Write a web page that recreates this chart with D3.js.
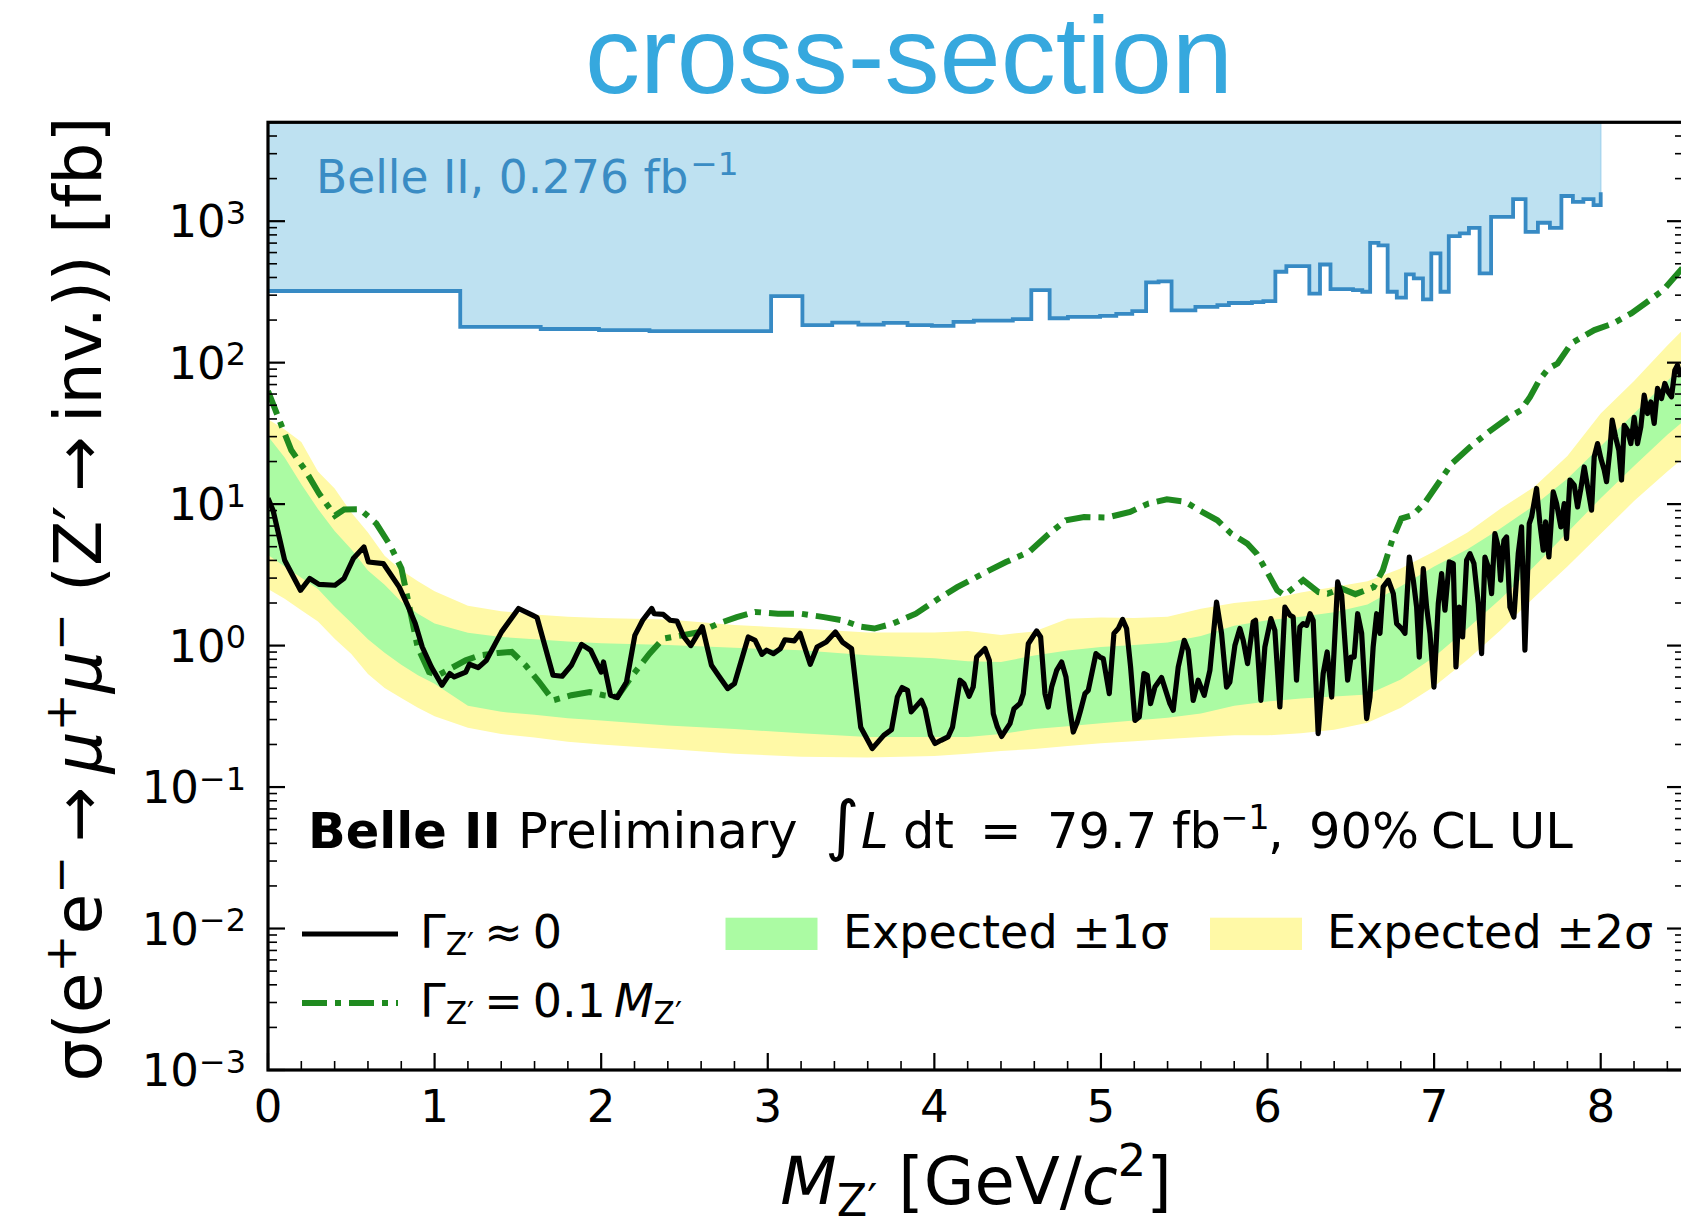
<!DOCTYPE html>
<html>
<head>
<meta charset="utf-8">
<script src="https://cdn.jsdelivr.net/npm/d3@7"></script>
<style>
  body { margin: 0; background: #ffffff; }
  svg text { font-family: "DejaVu Sans", sans-serif; fill: #000; }
</style>
</head>
<body>
<svg id="chart" width="1681" height="1219"></svg>
<script>
// ---------------------------------------------------------------------------
// Upper limits on sigma(e+e- -> mu+mu- Z'(-> inv.)) versus Z' mass
// ---------------------------------------------------------------------------

// Observed 90% CL upper limit, narrow Z' (mass [GeV/c^2], sigma [fb])
const observedNarrow = [
  [0.0, 11.0], [0.03, 9.06], [0.10, 4.01], [0.195, 2.46], [0.25, 2.98], [0.306, 2.71], [0.402, 2.67],
  [0.456, 2.98], [0.512, 4.12], [0.576, 4.98], [0.603, 3.90], [0.692, 3.80], [0.788, 2.59], [0.843, 1.87],
  [0.884, 1.43], [0.926, 0.977], [0.981, 0.706], [1.044, 0.524], [1.091, 0.634], [1.118, 0.600],
  [1.187, 0.650], [1.209, 0.738], [1.262, 0.698], [1.311, 0.787], [1.402, 1.25], [1.504, 1.83],
  [1.587, 1.64], [1.615, 1.58], [1.711, 0.617], [1.766, 0.607], [1.821, 0.726], [1.882, 1.02],
  [1.937, 0.927], [2.0, 0.650], [2.014, 0.766], [2.056, 0.446], [2.097, 0.429], [2.152, 0.553],
  [2.202, 1.18], [2.249, 1.51], [2.304, 1.83], [2.318, 1.68], [2.373, 1.66], [2.414, 1.51], [2.455, 1.49],
  [2.497, 1.15], [2.538, 1.00], [2.607, 1.36], [2.662, 0.726], [2.703, 0.617], [2.759, 0.497], [2.8, 0.538],
  [2.883, 1.15], [2.924, 1.09], [2.965, 0.867], [2.993, 0.927], [3.034, 0.877], [3.076, 0.953], [3.103, 1.10],
  [3.159, 1.08], [3.194, 1.22], [3.255, 0.738], [3.296, 0.977], [3.351, 1.06], [3.406, 1.25], [3.448, 1.06],
  [3.503, 0.953], [3.558, 0.265], [3.627, 0.187], [3.696, 0.232], [3.743, 0.255], [3.778, 0.434],
  [3.806, 0.505], [3.839, 0.483], [3.861, 0.340], [3.922, 0.410], [3.944, 0.358], [3.977, 0.232],
  [4.004, 0.203], [4.040, 0.214], [4.082, 0.226], [4.109, 0.265], [4.154, 0.569], [4.178, 0.538],
  [4.209, 0.438], [4.233, 0.509], [4.254, 0.830], [4.274, 0.877], [4.304, 0.953], [4.330, 0.787],
  [4.354, 0.330], [4.378, 0.266], [4.404, 0.228], [4.434, 0.259], [4.454, 0.281], [4.478, 0.358],
  [4.514, 0.389], [4.534, 0.458], [4.564, 1.03], [4.590, 1.15], [4.614, 1.27], [4.638, 1.15], [4.664, 0.458],
  [4.684, 0.368], [4.704, 0.509], [4.734, 0.668], [4.764, 0.766], [4.790, 0.600], [4.814, 0.349],
  [4.834, 0.245], [4.858, 0.288], [4.878, 0.349], [4.904, 0.458], [4.924, 0.483], [4.970, 0.877],
  [4.994, 0.830], [5.014, 0.809], [5.050, 0.458], [5.078, 1.22], [5.104, 1.32], [5.130, 1.53], [5.154, 1.32],
  [5.178, 0.706], [5.204, 0.296], [5.230, 0.313], [5.258, 0.634], [5.278, 0.617], [5.298, 0.389],
  [5.324, 0.509], [5.364, 0.594], [5.414, 0.389], [5.434, 0.349], [5.464, 0.706], [5.500, 1.09],
  [5.524, 0.927], [5.554, 0.410], [5.584, 0.569], [5.620, 0.445], [5.654, 0.668], [5.694, 2.03],
  [5.724, 1.22], [5.754, 0.509], [5.774, 0.553], [5.804, 1.00], [5.834, 1.32], [5.854, 1.09], [5.880, 0.746],
  [5.914, 1.47], [5.928, 1.51], [5.960, 0.410], [5.984, 0.977], [6.020, 1.55], [6.044, 1.28], [6.074, 0.368],
  [6.104, 1.87], [6.134, 1.64], [6.154, 1.59], [6.174, 0.569], [6.194, 1.35], [6.214, 1.43], [6.235, 1.39],
  [6.255, 1.68], [6.274, 1.51], [6.304, 0.239], [6.334, 0.634], [6.358, 0.901], [6.385, 0.433],
  [6.421, 2.82], [6.445, 2.27], [6.481, 0.569], [6.501, 0.830], [6.520, 0.830], [6.541, 1.68], [6.565, 1.22],
  [6.595, 0.305], [6.615, 0.433], [6.634, 0.977], [6.655, 1.68], [6.675, 1.22], [6.694, 2.60], [6.725, 2.90],
  [6.755, 2.33], [6.775, 1.43], [6.805, 1.32], [6.825, 1.22], [6.851, 4.23], [6.875, 2.90], [6.895, 1.87],
  [6.911, 0.830], [6.935, 3.50], [6.955, 1.87], [6.975, 1.22], [6.999, 0.509], [7.025, 1.98], [7.045, 3.23],
  [7.065, 1.78], [7.091, 3.90], [7.115, 3.80], [7.131, 0.706], [7.151, 1.87], [7.171, 1.15], [7.195, 4.01],
  [7.215, 4.47], [7.239, 3.80], [7.265, 1.98], [7.285, 0.877], [7.305, 4.23], [7.325, 3.60], [7.345, 2.33],
  [7.365, 6.19], [7.385, 4.98], [7.399, 2.90], [7.419, 5.55], [7.435, 5.86], [7.455, 1.87], [7.479, 1.59],
  [7.505, 4.47], [7.525, 6.90], [7.545, 0.927], [7.571, 7.29], [7.585, 8.11], [7.615, 12.9], [7.635, 7.29],
  [7.655, 4.72], [7.669, 7.48], [7.689, 4.23], [7.715, 12.2], [7.735, 10.1], [7.761, 6.90], [7.781, 10.1],
  [7.795, 5.71], [7.815, 14.8], [7.841, 13.6], [7.861, 9.55], [7.881, 12.9], [7.901, 18.3], [7.925, 12.5],
  [7.945, 9.06], [7.961, 21.6], [7.981, 26.8], [8.001, 21.0], [8.021, 17.4], [8.035, 14.4], [8.055, 24.0],
  [8.069, 39.2], [8.089, 29.9], [8.109, 24.0], [8.125, 14.8], [8.141, 36.1], [8.161, 33.3], [8.181, 26.8],
  [8.201, 41.0], [8.221, 26.8], [8.241, 35.2], [8.261, 58.9], [8.281, 43.7], [8.301, 52.8], [8.321, 37.2],
  [8.341, 65.7], [8.365, 55.8], [8.385, 71.3], [8.405, 62.1], [8.425, 57.3], [8.445, 88.5], [8.461, 95.9],
  [8.481, 79.4]
];

// Observed 90% CL upper limit, wide Z' (width = 0.1 M)
const observedWide = [
  [0, 63], [0.084, 35.2], [0.14, 24.0], [0.223, 17.4], [0.306, 11.9], [0.402, 8.3], [0.457, 9.16],
  [0.553, 9.20], [0.650, 7.29], [0.733, 5.12], [0.801, 3.51], [0.857, 1.68], [0.898, 0.977], [0.967, 0.650],
  [1.022, 0.617], [1.105, 0.698], [1.187, 0.787], [1.270, 0.853], [1.381, 0.887], [1.463, 0.902],
  [1.546, 0.726], [1.628, 0.553], [1.711, 0.410], [1.821, 0.446], [1.932, 0.470], [2.014, 0.446],
  [2.097, 0.434], [2.180, 0.600], [2.290, 0.877], [2.373, 1.12], [2.483, 1.18], [2.593, 1.25], [2.703, 1.43],
  [2.814, 1.59], [2.924, 1.73], [3.061, 1.68], [3.199, 1.68], [3.337, 1.59], [3.448, 1.51], [3.558, 1.36],
  [3.640, 1.32], [3.751, 1.43], [3.889, 1.68], [4.026, 2.15], [4.137, 2.59], [4.292, 3.23], [4.430, 3.90],
  [4.568, 4.59], [4.678, 6.03], [4.789, 7.69], [4.899, 8.11], [5.037, 8.04], [5.175, 8.81], [5.285, 10.1],
  [5.396, 10.8], [5.506, 10.4], [5.589, 9.06], [5.699, 7.69], [5.782, 6.19], [5.879, 5.26], [5.934, 4.48],
  [6.003, 3.23], [6.058, 2.46], [6.100, 2.27], [6.214, 2.90], [6.306, 2.39], [6.361, 2.33], [6.444, 2.53],
  [6.527, 2.31], [6.637, 2.59], [6.692, 3.41], [6.748, 5.56], [6.803, 7.91], [6.872, 8.36], [6.941, 10.1],
  [7.024, 14.0], [7.107, 19.4], [7.217, 25.4], [7.328, 32.4], [7.438, 40.3], [7.521, 46.1], [7.576, 57.3],
  [7.631, 75.2], [7.686, 91.0], [7.741, 98.6], [7.824, 137], [7.962, 170], [8.073, 189], [8.183, 223],
  [8.266, 262], [8.376, 326], [8.5, 480]
];

// Expected limit bands (±1 sigma, ±2 sigma)
const bandMass = [0, 0.1, 0.2, 0.3, 0.4, 0.5, 0.6, 0.7, 0.8, 0.9, 1.0, 1.2, 1.4, 1.6, 1.8, 2.0, 2.4, 2.8, 3.2,
  3.6, 4.0, 4.2, 4.4, 4.6, 4.8, 5.0, 5.2, 5.4, 5.6, 5.8, 6.0, 6.2, 6.4, 6.6, 6.8, 7.0, 7.2, 7.4, 7.6, 7.8,
  8.0, 8.2, 8.4, 8.5];
const expected2Up = [39.8, 33.7, 27.5, 17.0, 12.9, 8.71, 6.31, 4.32, 3.41, 2.85, 2.42, 1.91, 1.75, 1.66, 1.60,
  1.57, 1.53, 1.40, 1.32, 1.24, 1.24, 1.27, 1.19, 1.26, 1.55, 1.58, 1.57, 1.60, 1.82, 2.00, 2.11, 2.37, 2.60,
  2.85, 3.51, 4.62, 6.31, 9.33, 13.2, 21.9, 43.7, 74.1, 132, 174];
const expected1Up = [30.2, 21.4, 13.8, 9.23, 6.46, 4.79, 3.39, 2.69, 2.04, 1.68, 1.43, 1.23, 1.15, 1.11, 1.07,
  1.04, 1.01, 0.964, 0.927, 0.855, 0.813, 0.776, 0.767, 0.851, 0.923, 0.977, 1.01, 1.05, 1.17, 1.38, 1.51,
  1.60, 1.72, 1.95, 2.63, 3.63, 4.79, 6.76, 9.77, 15.1, 25.7, 43.7, 74.1, 97.7];
const expected1Down = [4.37, 3.63, 3.02, 2.51, 1.88, 1.45, 1.11, 0.891, 0.733, 0.617, 0.537, 0.376, 0.340,
  0.324, 0.307, 0.295, 0.272, 0.257, 0.240, 0.226, 0.226, 0.226, 0.237, 0.257, 0.269, 0.282, 0.295, 0.309,
  0.331, 0.376, 0.403, 0.422, 0.437, 0.452, 0.575, 0.832, 1.32, 2.14, 3.63, 6.31, 11.0, 18.6, 30.9, 38.9];
const expected2Down = [2.51, 2.14, 1.78, 1.48, 1.12, 0.871, 0.631, 0.501, 0.427, 0.363, 0.316, 0.263, 0.237,
  0.224, 0.209, 0.200, 0.186, 0.172, 0.164, 0.162, 0.166, 0.172, 0.180, 0.186, 0.195, 0.204, 0.211, 0.219,
  0.226, 0.232, 0.232, 0.240, 0.254, 0.285, 0.363, 0.513, 0.794, 1.29, 2.19, 3.63, 6.17, 10.5, 17.0, 21.4];

// Earlier Belle II result (0.276 fb^-1), binned limit
const earlierEdges = [0, 1.154, 1.637, 1.987, 2.29, 3.02, 3.208, 3.387, 3.544, 3.696, 3.839, 3.985, 4.115,
  4.237, 4.471, 4.582, 4.692, 4.802, 4.995, 5.092, 5.188, 5.271, 5.346, 5.424, 5.567, 5.699, 5.768, 5.906,
  5.975, 6.047, 6.113, 6.251, 6.315, 6.378, 6.513, 6.569, 6.616, 6.666, 6.721, 6.776, 6.831, 6.878, 6.933,
  6.983, 7.038, 7.088, 7.154, 7.209, 7.273, 7.342, 7.474, 7.549, 7.623, 7.695, 7.764, 7.833, 7.896, 7.957, 8.0];
const earlierLimit = [321, 179, 173, 170, 167, 295, 184, 192, 186, 191, 184, 182, 194, 198, 203, 326, 206, 211,
  214, 221, 231, 369, 375, 234, 248, 255, 264, 268, 272, 439, 481, 308, 494, 331, 326, 317, 703, 675, 317,
  288, 421, 394, 280, 592, 317, 785, 820, 897, 428, 1074, 1432, 841, 975, 897, 1507, 1371, 1432, 1300];
const earlierClosing = 1600;

// Axis ticks
const xMajorTicks = [0, 1, 2, 3, 4, 5, 6, 7, 8];
const yMajorExponents = [-3, -2, -1, 0, 1, 2, 3];

// ---------------------------------------------------------------------------
const svg = d3.select("#chart");
const frameL = 268, frameR = 1684, frameT = 122.3, frameB = 1070;

const x = d3.scaleLinear().domain([0, 8.5]).range([frameL, frameR]);
const y = d3.scaleLog().domain([1e-3, 5e3]).range([frameB, frameT]);

svg.append("defs").append("clipPath").attr("id", "plotArea")
  .append("rect").attr("x", frameL).attr("y", frameT).attr("width", frameR - frameL).attr("height", frameB - frameT);

const plot = svg.append("g").attr("clip-path", "url(#plotArea)");

const colGreen = "#abfba3", colYellow = "#fff9a6", colDashDot = "#1f8a1f";
const dashDot = "25,8,6,8";
const bandRows = bandMass.map((m, i) => ({
  m, u2: expected2Up[i], u1: expected1Up[i], d1: expected1Down[i], d2: expected2Down[i]
}));

// ±2 sigma and ±1 sigma expected bands
plot.append("path").datum(bandRows)
  .attr("fill", colYellow)
  .attr("d", d3.area().x(d => x(d.m)).y0(d => y(d.d2)).y1(d => y(d.u2)));
plot.append("path").datum(bandRows)
  .attr("fill", colGreen)
  .attr("d", d3.area().x(d => x(d.m)).y0(d => y(d.d1)).y1(d => y(d.u1)));

// Earlier binned limit: filled excluded region above the steps
const steps = [];
earlierLimit.forEach((v, i) => {
  steps.push([earlierEdges[i], v]);
  steps.push([earlierEdges[i + 1], v]);
});
plot.append("path").datum(steps)
  .attr("fill", "#bee1f1")
  .attr("stroke", "#a9d6ee")
  .attr("stroke-width", 1.5)
  .attr("d", d3.area().x(d => x(d[0])).y0(y.range()[1]).y1(d => y(d[1])));
plot.append("path").datum(steps.concat([[earlierEdges[earlierEdges.length - 1], earlierClosing]]))
  .attr("fill", "none")
  .attr("stroke", "#378ac4")
  .attr("stroke-width", 3.8)
  .attr("d", d3.line().x(d => x(d[0])).y(d => y(d[1])));

// Wide-resonance limit (dash-dot)
const lineGen = d3.line().x(d => x(d[0])).y(d => y(d[1]));
plot.append("path").datum(observedWide)
  .attr("fill", "none")
  .attr("stroke", colDashDot)
  .attr("stroke-width", 6)
  .attr("stroke-dasharray", dashDot)
  .attr("d", lineGen);

// Narrow-resonance limit (solid)
plot.append("path").datum(observedNarrow)
  .attr("fill", "none")
  .attr("stroke", "#000")
  .attr("stroke-width", 5.2)
  .attr("stroke-linejoin", "round")
  .attr("d", lineGen);

// ---------------------------------------------------------------------------
// Frame and ticks
const axes = svg.append("g").attr("stroke", "#000");
const major = 17, minor = 9;

const yMinor = [];
yMajorExponents.forEach(e => {
  for (let k = 2; k <= 9; k++) {
    const v = k * Math.pow(10, e);
    if (v <= 5e3) yMinor.push(v);
  }
});
yMajorExponents.forEach(e => {
  const py = y(Math.pow(10, e));
  axes.append("line").attr("x1", frameL).attr("x2", frameL + major).attr("y1", py).attr("y2", py).attr("stroke-width", 2.2);
  axes.append("line").attr("x1", frameR).attr("x2", frameR - major).attr("y1", py).attr("y2", py).attr("stroke-width", 2.2);
});
yMinor.forEach(v => {
  const py = y(v);
  axes.append("line").attr("x1", frameL).attr("x2", frameL + minor).attr("y1", py).attr("y2", py).attr("stroke-width", 1.6);
  axes.append("line").attr("x1", frameR).attr("x2", frameR - minor).attr("y1", py).attr("y2", py).attr("stroke-width", 1.6);
});
xMajorTicks.forEach(t => {
  axes.append("line").attr("x1", x(t)).attr("x2", x(t)).attr("y1", frameB).attr("y2", frameB - major).attr("stroke-width", 2.2);
});
d3.range(1, 43).filter(i => i % 5 !== 0).map(i => i * 0.2).forEach(t => {
  axes.append("line").attr("x1", x(t)).attr("x2", x(t)).attr("y1", frameB).attr("y2", frameB - minor).attr("stroke-width", 1.6);
});
svg.append("rect").attr("x", frameL).attr("y", frameT).attr("width", frameR - frameL).attr("height", frameB - frameT)
  .attr("fill", "none").attr("stroke", "#000").attr("stroke-width", 3.2);

// ---------------------------------------------------------------------------
// Rich text helper: parts = [{t, sup, sub, it, b, size, x, dx}]
function rich(textSel, parts, base) {
  let shift = 0;
  parts.forEach(p => {
    const ts = textSel.append("tspan").text(p.t);
    let target = 0, size = p.size || base;
    if (p.sup) { size = base * (p.scale || 0.68); target = -base * (p.raise || 0.38); }
    if (p.sub) { size = base * (p.scale || 0.68); target = base * (p.drop || 0.16); }
    ts.style("font-size", size + "px");
    if (target !== shift) { ts.attr("dy", target - shift); shift = target; }
    if (p.it) ts.style("font-style", "italic");
    if (p.b) ts.style("font-weight", "bold");
    if (p.x !== undefined) ts.attr("x", p.x);
    if (p.dx !== undefined) ts.attr("dx", p.dx);
  });
  return textSel;
}

// Tick labels
const tickFont = 45;
yMajorExponents.forEach(e => {
  const t = svg.append("text").attr("x", 246).attr("y", y(Math.pow(10, e)) + 16)
    .attr("text-anchor", "end").style("font-size", tickFont + "px");
  rich(t, [{ t: "10" }, { t: e < 0 ? "\u2212" + (-e) : String(e), sup: true, scale: 0.71, raise: 0.3 }], tickFont);
});
xMajorTicks.forEach(v => {
  svg.append("text").attr("x", x(v)).attr("y", 1122).attr("text-anchor", "middle")
    .style("font-size", tickFont + "px").text(v);
});

// Axis titles
const xt = svg.append("text").attr("x", 976).attr("y", 1204).attr("text-anchor", "middle").style("font-size", "65.5px");
rich(xt, [{ t: "M", it: true }, { t: "Z\u2032", sub: true, drop: 0.18 }, { t: " [GeV/" }, { t: "c", it: true },
  { t: "2", sup: true, raise: 0.42 }, { t: "]" }], 65.5);

const yt = svg.append("text").attr("transform", "translate(101,599) rotate(-90)")
  .attr("text-anchor", "middle").style("font-size", "66.5px");
rich(yt, [{ t: "\u03c3(e" }, { t: "+", sup: true }, { t: "e" }, { t: "\u2212", sup: true }, { t: "\u2009\u2192\u2009" },
  { t: "\u03bc", it: true }, { t: "+", sup: true }, { t: "\u03bc", it: true }, { t: "\u2212", sup: true },
  { t: " (Z\u2032\u2009\u2192\u2009inv.)) [fb]" }], 66.5);

// Title
svg.append("text").attr("x", 909).attr("y", 93).attr("text-anchor", "middle")
  .style("font-family", "'Liberation Sans', Arial, sans-serif").style("font-size", "110px")
  .style("fill", "#36a8de").text("cross-section");

// Annotation of the earlier result
const prev = svg.append("text").attr("x", 316).attr("y", 193).style("font-size", "45.5px").style("fill", "#3a8cc4");
rich(prev, [{ t: "Belle II, 0.276 fb" }, { t: "\u22121", sup: true, scale: 0.72, raise: 0.4, dx: 2 }], 45.5);

// Experiment label
const lab = svg.append("text").attr("y", 848).style("font-size", "49.5px");
rich(lab, [
  { t: "Belle II", b: true, x: 308 },
  { t: "Preliminary", x: 518 },
  { t: "\u222b", x: 825, size: 66 },
  { t: "L", it: true, x: 861 },
  { t: "dt", x: 903 },
  { t: "=", x: 980 },
  { t: "79.7", x: 1047 },
  { t: "fb", x: 1172 },
  { t: "\u22121", sup: true, scale: 0.68, raise: 0.38, x: 1220 },
  { t: ",", x: 1268 },
  { t: "90%", x: 1309 },
  { t: "CL", x: 1431 },
  { t: "UL", x: 1509 }
], 49.5);

// Legend
const legFont = 46;
svg.append("line").attr("x1", 302).attr("x2", 398).attr("y1", 934).attr("y2", 934)
  .attr("stroke", "#000").attr("stroke-width", 5.2);
svg.append("line").attr("x1", 302).attr("x2", 398).attr("y1", 1003).attr("y2", 1003)
  .attr("stroke", colDashDot).attr("stroke-width", 6).attr("stroke-dasharray", dashDot);
const l1 = svg.append("text").attr("x", 420).attr("y", 948).style("font-size", legFont + "px");
rich(l1, [{ t: "\u0393" }, { t: "Z\u2032", sub: true, scale: 0.68, drop: 0.16 }, { t: "\u2248", dx: 10 },
  { t: "0", dx: 10 }], legFont);
const l2 = svg.append("text").attr("x", 420).attr("y", 1017).style("font-size", legFont + "px");
rich(l2, [{ t: "\u0393" }, { t: "Z\u2032", sub: true, scale: 0.68, drop: 0.16 }, { t: "=", dx: 10 },
  { t: "0.1", dx: 10 }, { t: "M", it: true, dx: 8 }, { t: "Z\u2032", sub: true, scale: 0.68, drop: 0.16 }], legFont);

svg.append("rect").attr("x", 725.5).attr("y", 917.7).attr("width", 92).attr("height", 32.3).attr("fill", colGreen);
svg.append("text").attr("x", 843).attr("y", 948).style("font-size", legFont + "px").text("Expected \u00b11\u03c3");
svg.append("rect").attr("x", 1210).attr("y", 917.7).attr("width", 92).attr("height", 32.3).attr("fill", colYellow);
svg.append("text").attr("x", 1327).attr("y", 948).style("font-size", legFont + "px").text("Expected \u00b12\u03c3");
</script>
</body>
</html>
